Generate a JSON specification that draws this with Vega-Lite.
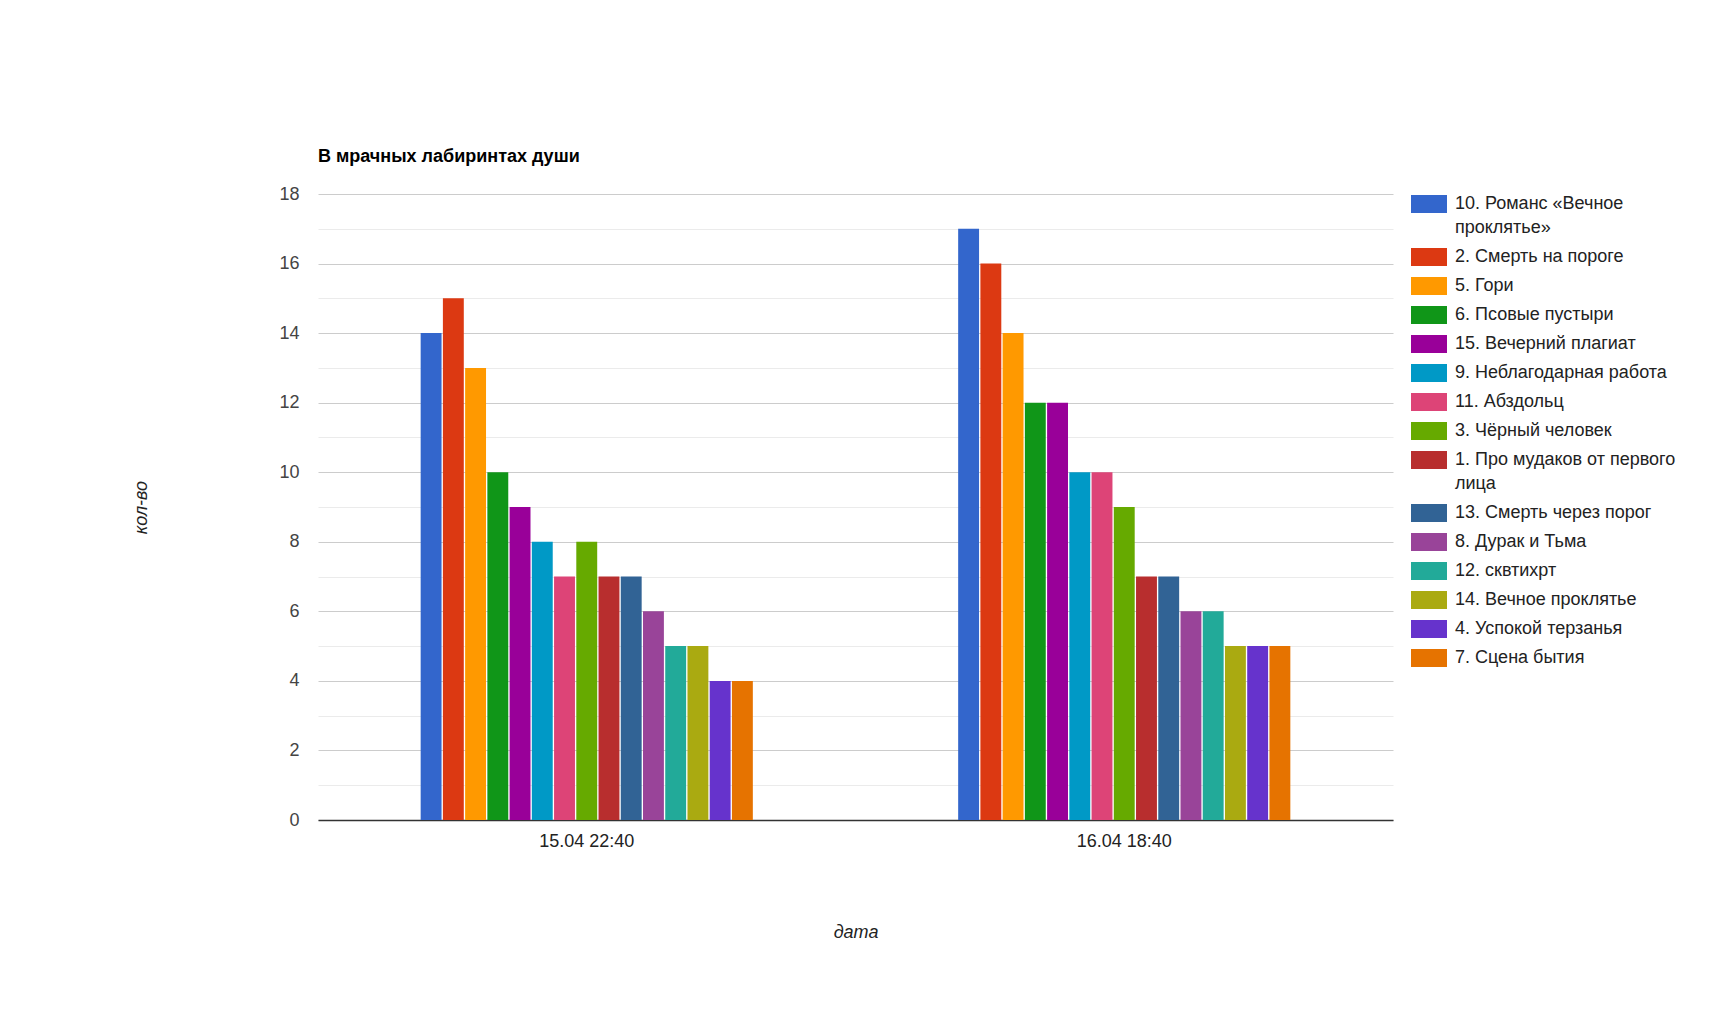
{
  "$schema": "https://vega.github.io/schema/vega-lite/v6.json",
  "autosize": {"type": "none"},
  "padding": {"left": 318, "top": 194, "right": 318, "bottom": 194},
  "width": 1075,
  "height": 626,
  "background": "#ffffff",
  "title": {
    "text": "В мрачных лабиринтах души",
    "anchor": "start",
    "frame": "group",
    "font": "Liberation Sans",
    "fontSize": 18,
    "fontWeight": "bold",
    "color": "#000000",
    "offset": 19
  },
  "config": {
    "font": "Liberation Sans",
    "view": {"stroke": null},
    "axis": {"labelFont": "Liberation Sans", "titleFont": "Liberation Sans"}
  },
  "data": {
    "values": [
      {"date": "15.04 22:40", "song": "10. Романс «Вечное проклятье»", "count": 14},
      {"date": "15.04 22:40", "song": "2. Смерть на пороге", "count": 15},
      {"date": "15.04 22:40", "song": "5. Гори", "count": 13},
      {"date": "15.04 22:40", "song": "6. Псовые пустыри", "count": 10},
      {"date": "15.04 22:40", "song": "15. Вечерний плагиат", "count": 9},
      {"date": "15.04 22:40", "song": "9. Неблагодарная работа", "count": 8},
      {"date": "15.04 22:40", "song": "11. Абздольц", "count": 7},
      {"date": "15.04 22:40", "song": "3. Чёрный человек", "count": 8},
      {"date": "15.04 22:40", "song": "1. Про мудаков от первого лица", "count": 7},
      {"date": "15.04 22:40", "song": "13. Смерть через порог", "count": 7},
      {"date": "15.04 22:40", "song": "8. Дурак и Тьма", "count": 6},
      {"date": "15.04 22:40", "song": "12. сквтихрт", "count": 5},
      {"date": "15.04 22:40", "song": "14. Вечное проклятье", "count": 5},
      {"date": "15.04 22:40", "song": "4. Успокой терзанья", "count": 4},
      {"date": "15.04 22:40", "song": "7. Сцена бытия", "count": 4},
      {"date": "16.04 18:40", "song": "10. Романс «Вечное проклятье»", "count": 17},
      {"date": "16.04 18:40", "song": "2. Смерть на пороге", "count": 16},
      {"date": "16.04 18:40", "song": "5. Гори", "count": 14},
      {"date": "16.04 18:40", "song": "6. Псовые пустыри", "count": 12},
      {"date": "16.04 18:40", "song": "15. Вечерний плагиат", "count": 12},
      {"date": "16.04 18:40", "song": "9. Неблагодарная работа", "count": 10},
      {"date": "16.04 18:40", "song": "11. Абздольц", "count": 10},
      {"date": "16.04 18:40", "song": "3. Чёрный человек", "count": 9},
      {"date": "16.04 18:40", "song": "1. Про мудаков от первого лица", "count": 7},
      {"date": "16.04 18:40", "song": "13. Смерть через порог", "count": 7},
      {"date": "16.04 18:40", "song": "8. Дурак и Тьма", "count": 6},
      {"date": "16.04 18:40", "song": "12. сквтихрт", "count": 6},
      {"date": "16.04 18:40", "song": "14. Вечное проклятье", "count": 5},
      {"date": "16.04 18:40", "song": "4. Успокой терзанья", "count": 5},
      {"date": "16.04 18:40", "song": "7. Сцена бытия", "count": 5}
    ]
  },
  "mark": {"type": "bar"},
  "encoding": {
    "x": {
      "field": "date",
      "type": "nominal",
      "scale": {"paddingInner": 0.382, "paddingOuter": 0.191},
      "axis": {
        "title": "дата",
        "titleFontStyle": "italic",
        "titleFontWeight": "normal",
        "titleFontSize": 18,
        "titleColor": "#222222",
        "titleY": 112,
        "titleBaseline": "middle",
        "labelAngle": 0,
        "labelFontSize": 18,
        "labelColor": "#222222",
        "labelPadding": 12,
        "ticks": false,
        "grid": false,
        "domainColor": "#333333",
        "domainWidth": 1.5
      }
    },
    "xOffset": {
      "field": "song",
      "type": "nominal",
      "sort": null,
      "scale": {"paddingInner": 0.06, "paddingOuter": 0}
    },
    "y": {
      "field": "count",
      "type": "quantitative",
      "scale": {"domain": [0, 18], "nice": false},
      "axis": {
        "title": "кол-во",
        "titleFontStyle": "italic",
        "titleFontWeight": "normal",
        "titleFontSize": 18,
        "titleColor": "#222222",
        "titleX": -177,
        "titleY": 313,
        "titleAngle": -90,
        "titleAlign": "center",
        "titleBaseline": "middle",
        "values": [0, 1, 2, 3, 4, 5, 6, 7, 8, 9, 10, 11, 12, 13, 14, 15, 16, 17, 18],
        "labelExpr": "datum.value % 2 === 0 ? datum.label : ''",
        "labelFontSize": 18,
        "labelColor": "#444444",
        "labelPadding": 19,
        "ticks": false,
        "domain": false,
        "gridColor": {
          "condition": {"test": "datum.value % 2 === 0", "value": "#cccccc"},
          "value": "#ebebeb"
        },
        "gridWidth": 1
      }
    },
    "color": {
      "field": "song",
      "type": "nominal",
      "scale": {
        "domain": [
          "10. Романс «Вечное проклятье»",
          "2. Смерть на пороге",
          "5. Гори",
          "6. Псовые пустыри",
          "15. Вечерний плагиат",
          "9. Неблагодарная работа",
          "11. Абздольц",
          "3. Чёрный человек",
          "1. Про мудаков от первого лица",
          "13. Смерть через порог",
          "8. Дурак и Тьма",
          "12. сквтихрт",
          "14. Вечное проклятье",
          "4. Успокой терзанья",
          "7. Сцена бытия"
        ],
        "range": [
          "#3366cc", "#dc3912", "#ff9900", "#109618", "#990099",
          "#0099c6", "#dd4477", "#66aa00", "#b82e2e", "#316395",
          "#994499", "#22aa99", "#aaaa11", "#6633cc", "#e67300"
        ]
      },
      "legend": {
        "title": null,
        "orient": "none",
        "legendX": 1093,
        "legendY": -8,
        "symbolType": "M-1,-0.5H1V0.5H-1Z",
        "symbolSize": 1296,
        "symbolStrokeWidth": 0,
        "symbolOpacity": 1,
        "labelFontSize": 18,
        "labelColor": "#222222",
        "labelOffset": 8,
        "labelLimit": 400,
        "rowPadding": 2,
        "labelExpr": "datum.label === '10. Романс «Вечное проклятье»' ? ['10. Романс «Вечное', 'проклятье»'] : datum.label === '1. Про мудаков от первого лица' ? ['1. Про мудаков от первого', 'лица'] : datum.label",
        "encode": {"labels": {"update": {"lineHeight": {"value": 24}}}}
      }
    }
  }
}
